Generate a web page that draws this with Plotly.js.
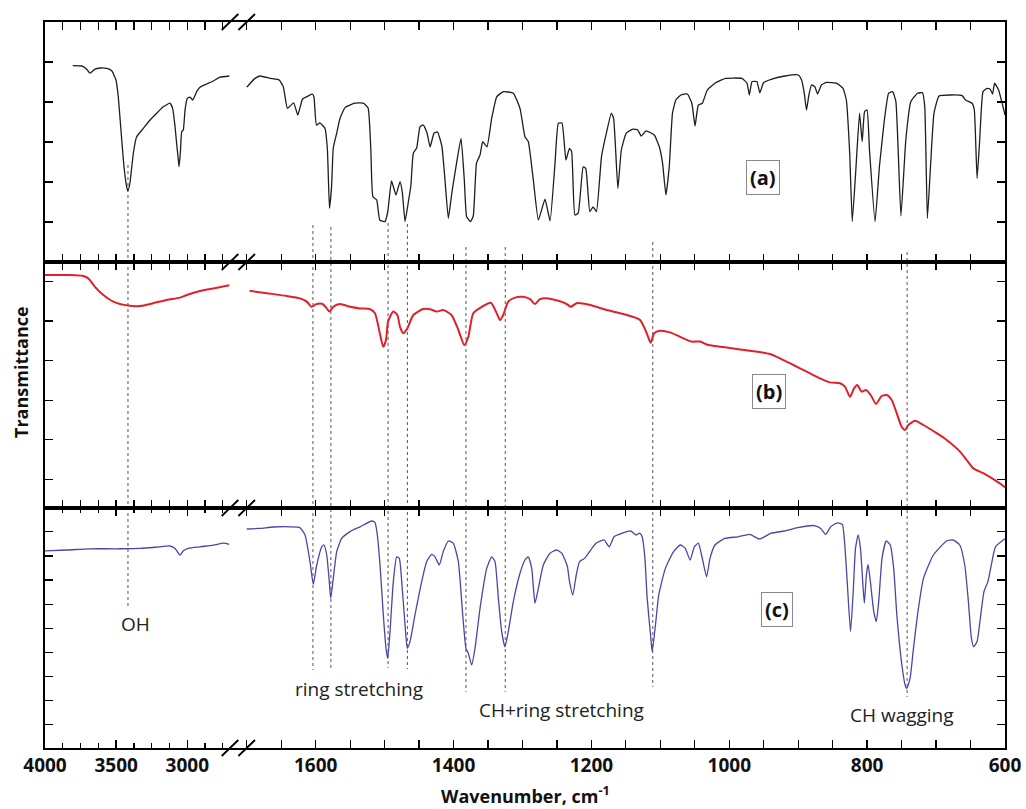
<!DOCTYPE html>
<html>
<head>
<meta charset="utf-8">
<script src="https://cdn.plot.ly/plotly-3.0.1.min.js"></script>
<style>html,body{margin:0;padding:0;background:#fff;}#chart{width:1026px;height:809px;}</style>
</head>
<body>
<div id="chart"></div>
<script>
// ---------- DATA (wavenumber in cm-1, transmittance in arbitrary units) ----------
const aLeftWn = [3805,3742,3712,3684,3649,3613,3566,3531,3501,3485,3468,3445,3426,3417,3403,3379,3356,3309,3262,3215,3169,3122,3103,3086,3074,3065,3058,3049,3039,3028,3016,3000,2981,2962,2934,2911,2864,2817,2770,2705];
const aLeftT  = [49.1,49.0,48.4,47.2,48.2,48.5,48.4,47.8,45.5,41.3,33.8,23.8,18.8,17.8,19.75,27.25,31.3,33.4,35.5,37.2,38.8,39.7,38.4,33.8,29.25,26.3,23.8,27.25,32.6,33,38,40.9,41.2,40.5,42.6,43.7,44.5,45.25,46.2,46.5];

const aRightWn = [1700,1695,1688,1681,1666,1653,1647,1641,1632,1626,1619,1611,1605,1602.5,1599,1594,1586.5,1583,1580,1577,1574.5,1569.5,1565,1557.5,1543,1531,1524,1520,1517,1511.5,1507,1499.5,1495.5,1490,1483.5,1477.7,1474.4,1470.4,1467,1462,1458.4,1453.5,1448.7,1444,1438.5,1434,1428.4,1423.3,1417,1412.4,1407.6,1402.3,1398,1389.2,1384.4,1381,1375.4,1371.4,1366.7,1361.6,1357.7,1351.5,1344.7,1337.4,1327.8,1313.3,1303.6,1296.4,1291.6,1284.3,1277,1267.3,1260,1252.8,1248,1242.7,1237,1231.9,1228.7,1224,1219.2,1212,1208.2,1202.3,1197.6,1192.7,1185.4,1178.3,1171.1,1167.8,1161.6,1156.6,1149.5,1140,1132.8,1127.8,1120.7,1108.8,1101.5,1096.8,1091.9,1087.1,1082.4,1077.5,1070.2,1060.8,1054.3,1049.7,1044.9,1039.1,1031.9,1019.9,1005.4,981.6,974.3,970.9,967,960,955.6,950.3,938.2,919,899.8,895.1,891.2,888,884.5,880.7,875.8,872,866.3,859,844.6,835,830.2,825.3,821.6,816.7,811,807.2,803.7,800.1,796.6,788.5,782.2,775,768.8,763,758.3,751,743.9,736.6,726.9,719.7,716.4,712.6,707.8,703,695.7,679,662.1,657.3,647.7,644.5,640.5,636.7,631.9,626.2,621.5,618,615.1,609.3,600];
const aRightT  = [43.7,44.7,45.9,46.5,45.9,45.5,43.8,38.4,39.8,36.75,40.75,41.5,42,41.25,34.25,34.8,33.4,28,13.4,18.8,28.5,32.2,35.75,38.6,39.7,39.7,38.5,28,16.3,15.5,10.5,10.1,12.5,20.25,16.75,20.1,17.5,10.1,13.5,19,27.2,28.5,33.8,34.25,32.25,28.75,32.2,32.5,29,20.5,10.9,17.5,22.2,30.9,20.5,11.3,10.1,11.5,24.7,26.75,30.1,28.8,35.9,41.3,42.6,42.2,38.4,31.3,30.1,20.5,10.5,15.7,10.3,24.7,34.7,34.75,25.5,28.4,27.6,11.75,12.2,23.8,23.4,12.6,13.8,12.6,26.3,32.2,37.2,35.9,18.4,28,32.2,33.2,33,31.5,32.8,31.75,28.8,24.7,16.75,23.8,37.2,40.5,41.75,42,39.7,34,39.25,39.7,43,44.8,45.9,45.9,44.7,41.75,45.1,45.1,42.3,44.8,45.7,46.5,46.75,45.5,42.2,38,41.75,44.25,43.8,42,44.25,44.9,44.7,43.4,40.5,27.2,10.1,22.2,37.2,30.1,37.6,38,28,10.1,23.8,35.5,42.2,42.6,40.1,11.5,30.5,40.1,42.2,42.3,38.8,10.9,24.7,37.2,41.5,41.75,41.6,40.5,39.7,38,20.9,30.5,42.6,43.4,43.2,42,44.7,43,36.75];

const bLeftWn = [4000,3847,3731,3696,3649,3590,3520,3415,3332,3239,3145,3051,3004,2911,2817,2705];
const bLeftT  = [58.25,58.25,58,57.4,55.3,53.25,51.6,50.6,50.5,51.2,52,52.6,53.25,54.25,54.9,55.7];

const bRightWn = [1696,1671,1642,1623,1613,1606,1598.5,1590,1584,1580,1574.5,1565,1550,1536,1521,1514,1507,1502,1498,1495,1487.5,1481.6,1477.7,1473,1467,1458.4,1444,1434,1424.5,1415,1403,1393,1384.4,1378.6,1371.4,1359,1346,1337.4,1332.6,1328,1320.6,1311,1299,1289,1282,1274.6,1262.6,1248,1236,1230,1221.4,1202,1177.9,1153.7,1129.5,1119.8,1114,1109,1100.5,1086,1071.5,1054.5,1042.5,1030.4,1003.7,970,941,926.4,907,887.7,868.4,854,839.4,832,824.9,819,814.3,807.9,801.6,794.8,787.1,778.9,771.6,764.4,757.1,749.9,745,740.3,730.6,718.5,699.1,684.6,665.3,655.6,646,631.5,617,602.5,600];
const bRightT  = [54.3,53.7,53,52.4,51.6,50.3,51,51,49.9,49.1,50.3,51,50.3,49.9,49.7,48.7,43.7,40.3,42,46.6,49.1,48.25,45.3,43.7,44.9,48.25,49.75,49.7,49.1,49.5,48.25,44.5,40.75,42.8,48.7,50.3,51.3,48.7,47,48.25,51.6,52.6,52.8,52.2,51,52.2,52.4,51.8,51,50.3,51.2,50.75,49.5,48.5,47,43.7,41.3,43.7,44.3,43.9,42.8,41.6,41.6,40.75,40.1,39.3,38.5,37.4,35.75,34.1,32.4,31.4,31.2,30.3,27.8,29.9,30.75,29.1,29.5,28.25,26,28,28.25,27,23.7,20.3,19.5,20.75,21.8,20.75,18.7,17,14.1,12,9.9,8.7,7.2,5.5,5.1];

const cLeftWn = [4000,3847,3684,3496,3332,3192,3122,3086,3051,3028,2993,2911,2817,2747,2705];
const cLeftT  = [49.3,49.5,49.8,49.8,49.9,50.3,50.5,49.9,48.25,49.3,49.9,50.3,50.7,51.2,50.9];

const cRightWn = [1700,1681,1661.5,1637,1623,1615.5,1608.3,1603.5,1598.5,1591.3,1588,1584,1580.3,1578.2,1574.5,1569.5,1562.3,1550.2,1535.7,1518.8,1514,1510.6,1506.7,1501.9,1498,1495.5,1492.2,1487.4,1482.5,1478.7,1475.2,1470.4,1467.1,1463.2,1456,1446.2,1439,1431.7,1427,1420.7,1414.9,1407.6,1400.4,1393.1,1386.7,1382,1378.6,1373.7,1368.9,1361.6,1351.9,1344.7,1339.9,1335,1330.2,1325.4,1320.6,1313.3,1303.6,1296.4,1291.6,1286.6,1281.9,1277,1269.8,1260.1,1250.4,1243.1,1235,1231.8,1227,1222,1217.2,1210,1202.7,1193.4,1181.5,1174.3,1167.1,1155.1,1143,1135,1130.1,1126.4,1122.4,1119.1,1114.2,1111.9,1107.1,1102.3,1092.7,1080.8,1071.1,1063.9,1056.8,1050.7,1044.9,1040.2,1032.9,1028,1020.8,1006.4,987.2,970.4,956,939.3,920,900.8,876.7,867.3,860.1,852.9,843.3,836,832.8,828.9,824.1,820.2,816.9,813,809.7,805.8,804,801.1,798.6,795.3,790.4,786.7,783.2,778.4,772.3,766.5,761.5,756.9,749.6,744.9,742.5,737.7,732.8,725.6,718.3,703.9,684.8,675.1,665.6,658.4,653.5,648.7,645.4,640.5,635.8,630.5,624.7,619.9,613.8,600];
const cRightT  = [54.75,54.9,55.25,55.3,55.1,53.25,46.6,40.9,45.75,50.3,50.75,48.25,41.6,37.4,42.4,49.1,52.4,54.1,55.3,56.75,56.4,53.25,45.75,33.25,24.9,22.4,29.1,41.6,47.8,47.4,41.6,30.75,24.9,26.6,33.25,41.6,46.6,48.4,47.8,45.75,49.1,51.75,51.2,46.6,33.25,24.9,23.7,20.75,24.9,34.9,44.9,47.8,46.6,37.4,29.1,25.3,29.1,36.6,43.7,47,47.8,44.9,36.2,39.9,45.75,48.7,49.5,48.7,45.5,41.6,38.25,43.25,46.6,47.4,49.1,51.2,52,50.3,52.8,53.7,54.25,53.25,53.7,52.8,47.4,37.4,28.25,24.1,30.75,38.25,44.9,49.1,50.75,49.9,47,50.3,51.2,48.25,42.8,47.4,50.75,52.4,52.8,53.4,52.25,53.7,54.25,55.1,55.6,54.9,53.4,55.3,56.3,55.9,51.6,41.6,29.1,39.1,49.9,53.25,49.9,39.9,36.2,43.25,45.9,41.6,34.1,31.6,36.6,47.4,51.75,50.75,44.9,33.25,20.75,15.75,14.9,17.4,24.9,34.9,42.4,48.25,51.75,52,50.75,45.75,37.4,27.4,25.3,26.6,32.4,39.1,41.6,45.75,50.3,52.3];

// band markers and labels
const markerWnLeft  = [3417];
const markerWnRight = [1604,1578,1495,1467,1382,1325,1111,742];
const xTickLeft = [4000,3500,3000];
const xTickRight = [1600,1400,1200,1000,800,600];

// ---------- LAYOUT ----------
const PT = 22, PB = 748, PL = 45, PR = 1005;
const H = PB - PT, W = PR - PL;
const py = p => (PB - p) / H;          // pixel y -> paper
const px = p => (p - PL) / W;          // pixel x -> paper
const SPLIT = px(238);
const dA = [py(262), 1], dB = [py(508), py(262)], dC = [0, py(508)];

const tickFont = {family: 'Open Sans', size: 19, weight: 700, color: '#111'};
const xCommon = {
  anchor: 'y3', showline: true, linecolor: '#000', linewidth: 1.6,
  ticks: 'inside', ticklen: 8, tickwidth: 1.4, tickcolor: '#000',
  mirror: 'allticks', showgrid: false, zeroline: false,
  tickfont: tickFont, tickmode: 'array'
};
const yCommon = {
  showline: true, linecolor: '#000', linewidth: 1.6,
  ticks: 'inside', ticklen: 8, tickwidth: 1.3, tickcolor: '#000',
  showticklabels: false, showgrid: false, zeroline: false, fixedrange: true
};
const yA = {range: [0, 60], tickmode: 'array', tickvals: [10, 20, 30, 40, 50]};
const yB = {range: [0, 61.5], tickmode: 'linear', tick0: 7.2, dtick: 9.88};
const yC = {range: [0, 60], tickmode: 'linear', tick0: 5.8, dtick: 6.03};

const layout = {
  width: 1026, height: 809,
  margin: {l: PL, r: 1026 - PR, t: PT, b: 809 - PB, pad: 0},
  paper_bgcolor: '#fff', plot_bgcolor: '#fff',
  showlegend: false,
  xaxis: Object.assign({}, xCommon, {domain: [0, SPLIT], range: [4000, 4000 - (238 - PL) / 0.1423],
    tickvals: xTickLeft, ticktext: xTickLeft.map(String),
    minor: {tickmode: 'linear', tick0: 0, dtick: 125, ticks: 'inside', ticklen: 5, tickwidth: 1.2, tickcolor: '#000'}}),
  xaxis2: Object.assign({}, xCommon, {domain: [SPLIT, 1], range: [1600 + (315.7 - 238) / 0.6893, 600],
    tickvals: xTickRight, ticktext: xTickRight.map(String),
    minor: {tickmode: 'linear', tick0: 0, dtick: 50, ticks: 'inside', ticklen: 5, tickwidth: 1.2, tickcolor: '#000'}}),
  yaxis:  Object.assign({}, yCommon, yA, {domain: dA, anchor: 'x'}),
  yaxis2: Object.assign({}, yCommon, yB, {domain: dB, anchor: 'x'}),
  yaxis3: Object.assign({}, yCommon, yC, {domain: dC, anchor: 'x'}),
  yaxis4: Object.assign({}, yCommon, yA, {overlaying: 'y', anchor: 'x2', side: 'right'}),
  yaxis5: Object.assign({}, yCommon, yB, {overlaying: 'y2', anchor: 'x2', side: 'right'}),
  yaxis6: Object.assign({}, yCommon, yC, {overlaying: 'y3', anchor: 'x2', side: 'right'}),
  shapes: [],
  annotations: []
};

// dotted band marker lines (span across panels)
const dotStyle = {color: '#555', width: 1, dash: 'dot'};
const markerSpans = {3417: [165, 608], 1604: [225, 670], 1578: [227, 670], 1495: [223, 668], 1467: [224, 669],
                     1382: [247, 692], 1325: [247, 692], 1111: [242, 687], 742: [252, 697]};
markerWnLeft.forEach(w => layout.shapes.push({type: 'line', xref: 'x', yref: 'paper', x0: w, x1: w,
  y0: py(markerSpans[w][0]), y1: py(markerSpans[w][1]), line: dotStyle, layer: 'below'}));
markerWnRight.forEach(w => layout.shapes.push({type: 'line', xref: 'x2', yref: 'paper', x0: w, x1: w,
  y0: py(markerSpans[w][0]), y1: py(markerSpans[w][1]), line: dotStyle, layer: 'below'}));

// axis-break slashes on every horizontal frame line
[22, 262, 508, 748].forEach(yy => {
  [230, 246.7].forEach(cx => {
    layout.shapes.push({type: 'line', xref: 'paper', yref: 'paper',
      x0: px(cx - 8.3), y0: py(yy + 8), x1: px(cx + 8.3), y1: py(yy - 8),
      line: {color: '#000', width: 1.8}});
  });
});

const noteFont = {family: 'Open Sans', size: 19, color: '#222'};
const labelFont = {family: 'Open Sans', size: 20, weight: 700, color: '#111'};
const titleFont = {family: 'Open Sans', size: 18, weight: 700, color: '#111'};
const C = {xanchor: 'center', yanchor: 'middle', showarrow: false};
layout.annotations.push(
  Object.assign({text: 'Transmittance', xref: 'paper', yref: 'paper', x: px(20.5), y: py(372.5), textangle: -90, font: titleFont}, C),
  Object.assign({text: 'Wavenumber, cm<sup>-1</sup>', xref: 'paper', yref: 'paper', x: px(525), y: py(795), font: titleFont}, C),
  Object.assign({text: 'OH', xref: 'x', yref: 'paper', x: 3365, y: py(624), font: noteFont}, C),
  Object.assign({text: 'ring stretching', xref: 'x2', yref: 'paper', x: 1537, y: py(689), font: noteFont}, C),
  Object.assign({text: 'CH+ring stretching', xref: 'x2', yref: 'paper', x: 1243, y: py(710), font: noteFont}, C),
  Object.assign({text: 'CH wagging', xref: 'x2', yref: 'paper', x: 749, y: py(715), font: noteFont}, C),
  Object.assign({text: '(a)', xref: 'x2', yref: 'paper', x: 951.5, y: py(177), font: labelFont,
   bordercolor: '#888', borderwidth: 1, borderpad: 3, bgcolor: '#fff'}, C),
  Object.assign({text: '(b)', xref: 'x2', yref: 'paper', x: 942.7, y: py(391.7), font: labelFont,
   bordercolor: '#888', borderwidth: 1, borderpad: 3, bgcolor: '#fff'}, C),
  Object.assign({text: '(c)', xref: 'x2', yref: 'paper', x: 931.2, y: py(609.2), font: labelFont,
   bordercolor: '#888', borderwidth: 1, borderpad: 3, bgcolor: '#fff'}, C)
);

// ---------- TRACES ----------
const colA = '#1e1e1e', colB = '#e0202a', colC = '#4747a6';
function tr(x, y, xa, ya, color, w, smooth) {
  return {x: x, y: y, xaxis: xa, yaxis: ya, type: 'scatter', mode: 'lines', hoverinfo: 'skip',
          line: {color: color, width: w, shape: 'spline', smoothing: smooth}};
}
const data = [
  tr(aLeftWn, aLeftT, 'x', 'y', colA, 1.3, 0.4),
  tr(aRightWn, aRightT, 'x2', 'y', colA, 1.3, 0.4),
  tr(bLeftWn, bLeftT, 'x', 'y2', colB, 2, 0.8),
  tr(bRightWn, bRightT, 'x2', 'y2', colB, 2, 0.6),
  tr(cLeftWn, cLeftT, 'x', 'y3', colC, 1.3, 0.8),
  tr(cRightWn, cRightT, 'x2', 'y3', colC, 1.3, 0.5),
  {x: [], y: [], xaxis: 'x2', yaxis: 'y4', type: 'scatter', mode: 'lines', showlegend: false},
  {x: [], y: [], xaxis: 'x2', yaxis: 'y5', type: 'scatter', mode: 'lines', showlegend: false},
  {x: [], y: [], xaxis: 'x2', yaxis: 'y6', type: 'scatter', mode: 'lines', showlegend: false}
];

Plotly.newPlot('chart', data, layout, {staticPlot: true, displayModeBar: false});
</script>
</body>
</html>
